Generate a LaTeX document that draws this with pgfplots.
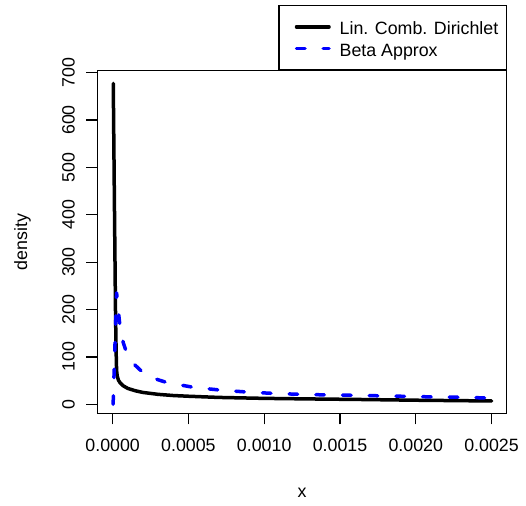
\documentclass[border=0pt]{standalone}
\usepackage{fontspec}
\setmainfont{Liberation Sans}
\usepackage{pgfplots}
\pgfplotsset{compat=1.18}
\pgfplotstableread{
x y
0.000004 677
0.000013 380
0.000019 190
0.000023 110
0.000026 72
0.000030 60
0.000038 51
0.000050 45
0.000070 39
0.000100 33.5
0.000150 28.5
0.000200 25
0.000300 21
0.000400 18.5
0.000500 17
0.000700 14.5
0.001000 12.5
0.001300 11.3
0.001600 10.3
0.002000 8.6
0.002500 7
}\blacktab
\pgfplotstableread{
x y
0.000003 0
0.000026 235
0.000048 165
0.000070 130
0.000092 109
0.000140 85
0.000190 70
0.000260 56
0.000356 46
0.000530 36
0.000710 30
0.000880 26
0.001060 23
0.001240 21
0.001410 19.8
0.001590 19
0.001900 17
0.002140 15.4
0.002310 14.8
0.002500 13
}\bluetab
\begin{document}
\begin{tikzpicture}[font=\fontsize{17.8bp}{21bp}\selectfont]
\path[use as bounding box] (0bp,0bp) rectangle (526bp,506bp);
\begin{axis}[
  at={(97.5bp,92.7bp)}, anchor=south west,
  scale only axis, width=409.2bp, height=342.6bp,
  xmin=-0.0001, xmax=0.0026, ymin=-19, ymax=704,
  axis line style={line width=1.2bp, black},
  tick style={line width=1.2bp, black},
  tick align=outside, major tick length=11bp,
  xtick pos=left, ytick pos=left,
  xtick={0,0.0005,0.001,0.0015,0.002,0.0025},
  xticklabels={0.0000,0.0005,0.0010,0.0015,0.0020,0.0025},
  ytick={0,100,200,300,400,500,600,700},
  yticklabels={0,100,200,300,400,500,600,700},
  scaled x ticks=false,
  xticklabel style={anchor=north, inner sep=0pt},
  yticklabel style={rotate=90, anchor=south, inner sep=0pt},
  xticklabel shift=15bp, yticklabel shift=11.5bp,
  xlabel={x}, ylabel={density},
  xlabel style={at={(axis description cs:0.5,-0.231)}, anchor=center, inner sep=0pt},
  ylabel style={at={(axis description cs:-0.1833,0.5)}, anchor=center, inner sep=0pt},
  legend style={at={(rel axis cs:1,1)}, anchor=south east, draw=black, line width=1.2bp,
    inner xsep=5.8bp, inner ysep=10.5bp, column sep=0bp, row sep=0pt,
    nodes={inner ysep=2.4bp, text height=16bp, text depth=1bp},
    font=\fontsize{17.8bp}{21bp}\selectfont},
  legend cell align=left,
  legend image code/.code={\path[draw=none] (0bp,0bp) -- (52.9bp,0bp); \draw[#1] (11.7bp,0bp) -- (44.2bp,0bp);},
]
\addplot[black, line width=3.5bp, line join=round, line cap=round] table {\blacktab};
\addlegendentry{Lin. Comb. Dirichlet}
\addplot[blue, line width=3.5bp, line join=round, line cap=round, dash pattern=on 8.5bp off 18.2bp] table {\bluetab};
\addlegendentry{Beta Approx}
\end{axis}
\end{tikzpicture}
\end{document}
